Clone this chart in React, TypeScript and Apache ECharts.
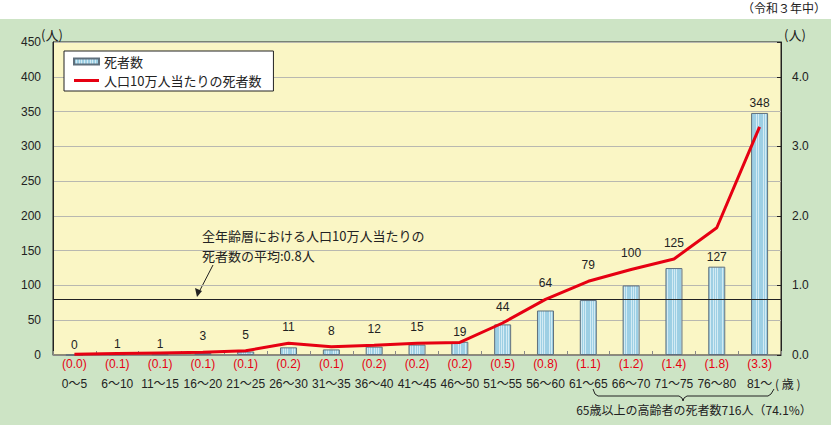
import React, { useEffect, useRef } from "react";
import * as echarts from "echarts";

const categories = ["0～5", "6～10", "11～15", "16～20", "21～25", "26～30", "31～35", "36～40", "41～45", "46～50", "51～55", "56～60", "61～65", "66～70", "71～75", "76～80", "81～"];
const deaths = [0, 1, 1, 3, 5, 11, 8, 12, 15, 19, 44, 64, 79, 100, 125, 127, 348];
// rounded rates printed under the axis
const rateLabels = ["0.0", "0.1", "0.1", "0.1", "0.1", "0.2", "0.1", "0.2", "0.2", "0.2", "0.5", "0.8", "1.1", "1.2", "1.4", "1.8", "3.3"];
// line values
const rates = [0.01, 0.02, 0.03, 0.04, 0.06, 0.17, 0.12, 0.14, 0.17, 0.18, 0.46, 0.8, 1.06, 1.23, 1.38, 1.83, 3.28];
const leftTicks = { min: 0, max: 450, interval: 50 };
const rightTicks = { min: 0, max: 4.5, interval: 1 };
const averageRate = 0.8;

const FONT = "'Liberation Sans', 'Noto Sans CJK JP', sans-serif";
const JP = "'Noto Sans CJK JP', sans-serif";

const GRID_TOP = 42;
const GRID_BOTTOM = 70;
const CHART_H = 425;

function stripeGradient() {
  const stops: { offset: number; color: string }[] = [];
  const n = 9;
  for (let i = 0; i < n; i++) {
    const a = i / n;
    const b = (i + 0.65) / n;
    const c = (i + 1) / n;
    stops.push({ offset: a, color: "#9dcfe4" });
    stops.push({ offset: b, color: "#9dcfe4" });
    stops.push({ offset: b, color: "#d3ebf4" });
    stops.push({ offset: c, color: "#d3ebf4" });
  }
  return new echarts.graphic.LinearGradient(0, 0, 1, 0, stops);
}

export default function App() {
  const ref = useRef<HTMLDivElement>(null);
  useEffect(() => {
    if (!ref.current) return;
    const chart = echarts.init(ref.current, null, { renderer: "svg" });
    // keep bar value labels clear of the red line (labels are lifted above it)
    const plotH = CHART_H - GRID_TOP - GRID_BOTTOM;
    const pxPerUnit = plotH / leftTicks.max;
    const scale = leftTicks.max / rightTicks.max;
    const barData = deaths.map((v, i) => {
      const diffPx = (rates[i] * scale - v) * pxPerUnit;
      let dist = 4;
      if (diffPx > 0 && diffPx < 30 && v >= 3) dist += diffPx + 6;
      return { value: v, label: { distance: dist } };
    });
    chart.setOption({
      animation: false,
      backgroundColor: "#ffffff",
      textStyle: { fontFamily: FONT },
      grid: {
        left: 53,
        right: 50,
        top: GRID_TOP,
        bottom: GRID_BOTTOM,
        show: true,
        backgroundColor: "#faf6c5",
        borderColor: "#222",
        borderWidth: 1,
        containLabel: false,
      },
      legend: {
        orient: "vertical",
        left: 64,
        top: 51,
        backgroundColor: "#ffffff",
        borderColor: "#222",
        borderWidth: 1,
        borderRadius: 0,
        padding: [4, 12, 4, 9],
        itemGap: 6,
        itemWidth: 25,
        itemHeight: 6,
        textStyle: { fontFamily: JP, fontSize: 13, color: "#222" },
        data: [
          { name: "死者数", icon: "rect" },
          { name: "人口10万人当たりの死者数", icon: "path://M0 0H25V3H0Z", itemStyle: { color: "#e60012" } },
        ],
      },
      xAxis: {
        type: "category",
        data: categories,
        axisLine: { lineStyle: { color: "#888", width: 1 } },
        axisTick: { show: true, inside: true, length: 4, lineStyle: { color: "#888" } },
        axisLabel: {
          interval: 0,
          margin: 0,
          formatter: (value: string, idx: number) =>
            `{r|(${rateLabels[idx]})}\n{c|${value}}`,
          rich: {
            r: { color: "#e60012", fontSize: 12, lineHeight: 18, fontFamily: FONT },
            c: { color: "#222", fontSize: 12, lineHeight: 22, fontFamily: FONT },
          },
        },
      },
      yAxis: [
        {
          type: "value",
          ...leftTicks,
          axisLine: { show: true, lineStyle: { color: "#222" } },
          axisTick: { show: false },
          axisLabel: { color: "#222", fontSize: 12, margin: 12 },
          splitLine: { show: true, lineStyle: { color: "#b8b8b0", width: 1 } },
        },
        {
          type: "value",
          ...rightTicks,
          position: "right",
          axisLine: { show: true, lineStyle: { color: "#222" } },
          axisTick: { show: true, inside: true, length: 4, lineStyle: { color: "#222" } },
          axisLabel: {
            color: "#222",
            fontSize: 12,
            margin: 11,
            formatter: (v: number) => (Math.abs(v - 4.5) < 1e-9 ? "" : v.toFixed(1)),
          },
          splitLine: { show: false },
        },
      ],
      series: [
        {
          name: "死者数",
          type: "bar",
          data: barData,
          barWidth: 17,
          yAxisIndex: 0,
          itemStyle: { color: stripeGradient(), borderColor: "#5f6f7c", borderWidth: 1 },
          label: { show: true, position: "top", distance: 4, color: "#222", fontSize: 12 },
          z: 2,
        },
        {
          name: "人口10万人当たりの死者数",
          type: "line",
          data: rates,
          yAxisIndex: 1,
          showSymbol: false,
          symbol: "none",
          lineStyle: { color: "#e60012", width: 3 },
          itemStyle: { color: "#e60012" },
          z: 4,
          markLine: {
            silent: true,
            symbol: "none",
            label: { show: false },
            lineStyle: { color: "#222", width: 1, type: "solid" },
            data: [{ yAxis: averageRate }],
            z: 3,
          },
        },
      ],
      graphic: [
        { type: "rect", shape: { x: 0, y: 19, width: 831, height: 406 }, style: { fill: "#cde4c5" }, z: -10, silent: true },
        { type: "text", right: 5, top: 1, style: { text: "（令和３年中）", fontFamily: JP, fontSize: 12, fill: "#222" } },
        { type: "text", x: 41, y: 28, style: { text: "(人)", fontFamily: JP, fontSize: 13, fill: "#222" } },
        { type: "text", x: 784, y: 28, style: { text: "(人)", fontFamily: JP, fontSize: 13, fill: "#222" } },
        { type: "text", x: 775, y: 383, style: { text: "( 歳 )", fontFamily: JP, fontSize: 12, fill: "#222", verticalAlign: "middle" } },
        {
          type: "text",
          x: 202,
          y: 235,
          style: { text: "全年齢層における人口10万人当たりの", fontFamily: JP, fontSize: 13, fill: "#222", verticalAlign: "middle" },
        },
        {
          type: "text",
          x: 202,
          y: 255,
          style: { text: "死者数の平均:0.8人", fontFamily: JP, fontSize: 13, fill: "#222", verticalAlign: "middle" },
        },
        { type: "line", shape: { x1: 213, y1: 265, x2: 198, y2: 294 }, style: { stroke: "#222", lineWidth: 1 } },
        { type: "polygon", shape: { points: [[197, 297], [195, 288], [202, 291]] }, style: { fill: "#222" } },
        {
          type: "polyline",
          shape: {
            points: [[593, 389], [595, 394], [598, 396], [679, 396], [682, 398], [683, 401], [684, 398], [687, 396], [768, 396], [771, 394], [774, 389]],
          },
          style: { stroke: "#222", lineWidth: 1, fill: "none" },
        },
        {
          type: "text",
          x: 694,
          y: 409,
          style: { text: "65歳以上の高齢者の死者数716人（74.1%）", fontFamily: JP, fontSize: 12, fill: "#222", align: "center", verticalAlign: "middle" },
        },
      ],
    });
    return () => chart.dispose();
  }, []);
  return <div ref={ref} style={{ position: "absolute", left: 0, top: 0, width: 831, height: 425 }} />;
}
